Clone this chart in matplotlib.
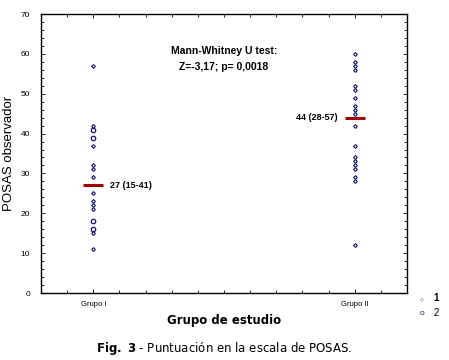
import numpy as np
import matplotlib
matplotlib.use("Agg")
from matplotlib import pyplot as plt
from matplotlib.ticker import MultipleLocator, FixedLocator

categories = ["Grupo I", "Grupo II"]
# series 1 (small markers) and series 2 (circles)
grupo1_s1 = [57, 42, 37, 32, 31, 29, 25, 23, 22, 21, 15, 11]
grupo1_s2 = [41, 39, 18, 16]
grupo2_s1 = [60, 58, 57, 56, 52, 51, 49, 47, 46, 45, 42, 37, 34, 33, 32, 31, 29, 28, 12]
grupo2_s2 = []
medians = [27, 44]
median_labels = ["27 (15-41)", "44 (28-57)"]

plt.rcParams['font.family'] = ['Liberation Sans', 'DejaVu Sans']

fig = plt.figure(figsize=(4.49, 3.6), dpi=100)
ax = fig.add_axes([0.0913, 0.1861, 0.8152, 0.775])

navy = "#10106a"
ax.plot([1] * len(grupo1_s1), grupo1_s1, linestyle="none", marker="D", ms=1.9,
        mfc="white", mec=navy, mew=0.8)
ax.plot([2] * len(grupo2_s1), grupo2_s1, linestyle="none", marker="D", ms=1.9,
        mfc="white", mec=navy, mew=0.8)
ax.plot([1] * len(grupo1_s2), grupo1_s2, linestyle="none", marker="o", ms=3.2,
        mfc="white", mec=navy, mew=0.9)
ax.plot([2] * len(grupo2_s2), grupo2_s2, linestyle="none", marker="o", ms=3.2,
        mfc="white", mec=navy, mew=0.9)

for i, m in enumerate(medians):
    ax.hlines(m, i + 1 - 0.038, i + 1 + 0.038, color="#a00000", lw=2.2, zorder=3)

ax.text(1.065, medians[0], median_labels[0], fontsize=6.5, fontweight="bold",
        ha="left", va="center")
ax.text(1.935, medians[1], median_labels[1], fontsize=6.5, fontweight="bold",
        ha="right", va="center")

ax.text(1.5, 60.6, "Mann-Whitney U test:", fontsize=7.5, fontweight="bold",
        ha="center", va="center")
ax.text(1.5, 56.8, "Z=-3,17; p= 0,0018", fontsize=7.5, fontweight="bold",
        ha="center", va="center")

ax.set_xlim(0.8, 2.2)
ax.set_ylim(0, 70)
ax.xaxis.set_major_locator(FixedLocator([1, 2]))
ax.xaxis.set_minor_locator(MultipleLocator(0.1))
ax.set_xticklabels(categories, fontsize=5.5)
ax.yaxis.set_major_locator(MultipleLocator(10))
ax.yaxis.set_minor_locator(MultipleLocator(2))
ax.tick_params(axis="y", labelsize=6, pad=8)
ax.tick_params(which="both", direction="in", top=True, right=True, width=0.6)
ax.tick_params(which="major", length=3)
ax.tick_params(which="minor", length=2)
ax.tick_params(axis="x", which="major", pad=6)
for s in ax.spines.values():
    s.set_linewidth(1.0)

ax.set_ylabel("POSAS observador", fontsize=9.5, labelpad=4)
ax.set_xlabel("Grupo de estudio", fontsize=8.5, fontweight="bold",
              family="DejaVu Sans", labelpad=4)

# legend outside, bottom right
fig.text(0.94, 0.171, "\u25c7", fontsize=3.5, color=navy, ha="center", va="center")
fig.text(0.94, 0.130, "o", fontsize=6, color=navy, ha="center", va="center")
fig.text(0.965, 0.171, "1", fontsize=7, fontweight="bold", ha="left", va="center")
fig.text(0.965, 0.130, "2", fontsize=7, ha="left", va="center")

fig.text(0.5, 0.033, r"$\bf{Fig.\ 3}$ - Puntuación en la escala de POSAS.",
         fontsize=8.5, ha="center", va="center", family="DejaVu Sans")

fig.savefig("out.png", dpi=100)
